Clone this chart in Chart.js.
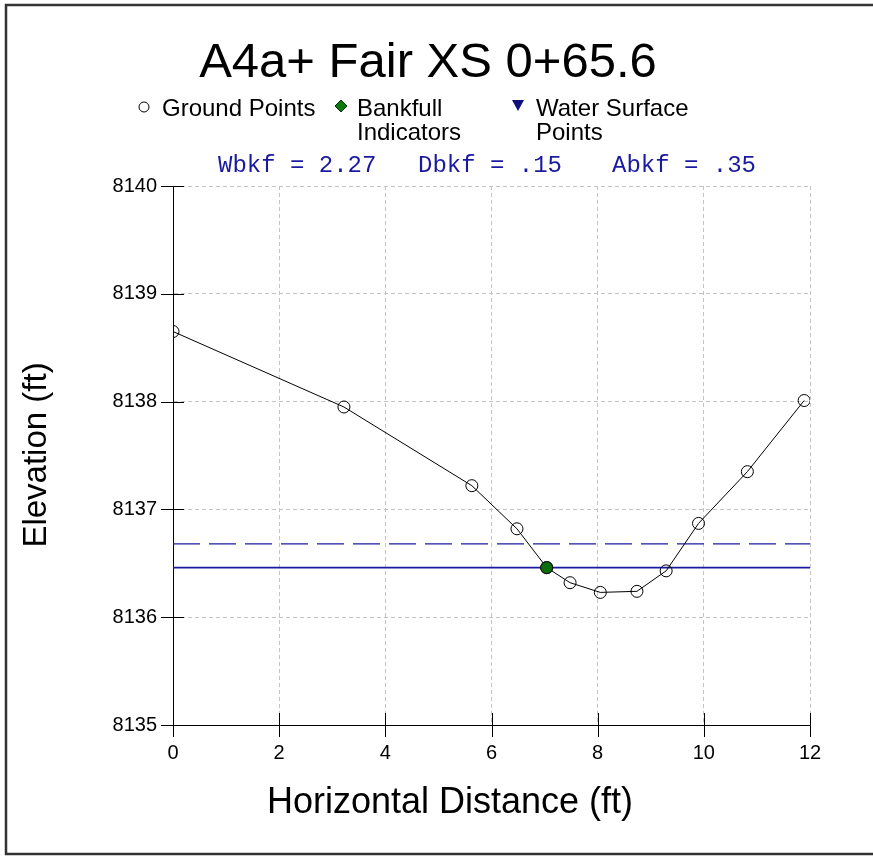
<!DOCTYPE html>
<html>
<head>
<meta charset="utf-8">
<script src="https://cdn.jsdelivr.net/npm/chart.js@4.4.1/dist/chart.umd.min.js"></script>
<style>
html,body{margin:0;padding:0;background:#fff;}
#wrap{width:873px;height:856px;position:relative;}
</style>
</head>
<body>
<div id="wrap"><canvas id="c" width="873" height="856"></canvas></div>
<script>
// ---- data ----
const chartTitle = "A4a+ Fair XS 0+65.6";
const groundX = [0, 3.22, 5.63, 6.48, 7.04, 7.48, 8.05, 8.74, 9.29, 9.90, 10.82, 11.89];
const groundY = [8138.65, 8137.95, 8137.22, 8136.82, 8136.46, 8136.32, 8136.23, 8136.24, 8136.43, 8136.87, 8137.35, 8138.01];
const bankfullX = [7.04];
const bankfullY = [8136.46];
const waterSurfaceElev = 8136.46;
const floodproneElev = 8136.68;
const lineXRange = [0, 12];
const xTicks = [0, 2, 4, 6, 8, 10, 12];
const yTicks = [8135, 8136, 8137, 8138, 8139, 8140];
const statsLabels = ["Wbkf = 2.27", "Dbkf = .15", "Abkf = .35"];
const legendLabels = [["Ground Points"], ["Bankfull", "Indicators"], ["Water Surface", "Points"]];
const xTitle = "Horizontal Distance (ft)";
const yTitle = "Elevation (ft)";

const NAVY = "#1a1aa0";
const SANS = "'Liberation Sans', Arial, sans-serif";

const groundData = groundX.map((x, i) => ({x, y: groundY[i]}));
const bankData = bankfullX.map((x, i) => ({x, y: bankfullY[i]}));
const wsData = lineXRange.map(x => ({x, y: waterSurfaceElev}));
const fpData = lineXRange.map(x => ({x, y: floodproneElev}));

const decorPlugin = {
  id: 'decor',
  beforeDraw(chart) {
    const ctx = chart.ctx;
    ctx.save();
    ctx.fillStyle = '#fff';
    ctx.fillRect(0, 0, chart.width, chart.height);
    ctx.restore();
  },
  afterDraw(chart) {
    const ctx = chart.ctx;
    const xs = chart.scales.x, ys = chart.scales.y;
    ctx.save();
    // ticks crossing axes
    ctx.strokeStyle = '#000';
    ctx.lineWidth = 1;
    ctx.setLineDash([]);
    yTicks.forEach(v => {
      const py = Math.round(ys.getPixelForValue(v)) + 0.5;
      ctx.beginPath(); ctx.moveTo(xs.left - 12, py); ctx.lineTo(xs.left + 11, py); ctx.stroke();
    });
    xTicks.forEach(v => {
      const px = Math.round(xs.getPixelForValue(v)) + 0.5;
      ctx.beginPath(); ctx.moveTo(px, ys.bottom - 12); ctx.lineTo(px, ys.bottom + 12); ctx.stroke();
    });
    // frame
    ctx.strokeStyle = '#333';
    ctx.lineWidth = 2.5;
    ctx.strokeRect(6, 5, 880, 849);
    // title
    ctx.fillStyle = '#000';
    ctx.textAlign = 'center';
    ctx.textBaseline = 'alphabetic';
    ctx.font = "49px " + SANS;
    ctx.fillText(chartTitle, 428, 77);
    // axis titles
    ctx.font = "36px " + SANS;
    ctx.textBaseline = 'middle';
    ctx.fillText(xTitle, 450, 803);
    ctx.save();
    ctx.translate(37, 455);
    ctx.rotate(-Math.PI / 2);
    ctx.font = "33px " + SANS;
    ctx.fillText(yTitle, 0, 0);
    ctx.restore();
    ctx.textBaseline = 'alphabetic';
    // legend
    ctx.font = "24px " + SANS;
    ctx.textAlign = 'left';
    // ground marker
    ctx.lineWidth = 1;
    ctx.strokeStyle = '#000';
    ctx.beginPath(); ctx.arc(144, 107, 5, 0, Math.PI * 2); ctx.stroke();
    ctx.fillText(legendLabels[0][0], 162, 116);
    // bankfull diamond
    ctx.fillStyle = '#0a7a0a';
    ctx.strokeStyle = '#003300';
    ctx.beginPath(); ctx.moveTo(341, 100); ctx.lineTo(347, 106); ctx.lineTo(341, 112); ctx.lineTo(335, 106); ctx.closePath(); ctx.fill(); ctx.stroke();
    ctx.fillStyle = '#000';
    ctx.fillText(legendLabels[1][0], 357, 116);
    ctx.fillText(legendLabels[1][1], 357, 140);
    // water triangle
    ctx.fillStyle = '#10107a';
    ctx.beginPath(); ctx.moveTo(512, 100); ctx.lineTo(524, 100); ctx.lineTo(518, 111); ctx.closePath(); ctx.fill();
    ctx.fillStyle = '#000';
    ctx.fillText(legendLabels[2][0], 536, 116);
    ctx.fillText(legendLabels[2][1], 536, 140);
    // stats line
    ctx.fillStyle = NAVY;
    ctx.font = "24px 'Liberation Mono', 'Courier New', monospace";
    const sx = [218, 418, 612];
    statsLabels.forEach((t, i) => ctx.fillText(t, sx[i], 172));
    ctx.restore();
  }
};

new Chart(document.getElementById('c'), {
  type: 'scatter',
  data: {
    datasets: [
      {
        label: 'Floodprone',
        data: fpData, showLine: true, borderColor: NAVY, borderWidth: 1.3,
        borderDash: [27, 9], pointRadius: 0, order: 3
      },
      {
        label: 'Water Surface',
        data: wsData, showLine: true, borderColor: NAVY, borderWidth: 1.8,
        pointRadius: 0, order: 3
      },
      {
        label: 'Ground Points',
        data: groundData, showLine: true, borderColor: '#000', borderWidth: 1,
        pointStyle: 'circle', pointRadius: 6, pointBackgroundColor: 'rgba(0,0,0,0)',
        pointBorderColor: '#000', pointBorderWidth: 1, order: 2
      },
      {
        label: 'Bankfull Indicators',
        data: bankData, showLine: false, pointStyle: 'circle', pointRadius: 6,
        pointBackgroundColor: '#0a6e0a', pointBorderColor: '#1a1a1a', pointBorderWidth: 1.2, order: 1
      }
    ]
  },
  options: {
    responsive: false,
    animation: false,
    devicePixelRatio: 1,
    layout: { padding: { top: 186, right: 63, bottom: 0, left: 0 } },
    plugins: { legend: { display: false }, tooltip: { enabled: false }, title: { display: false } },
    scales: {
      x: {
        type: 'linear', min: 0, max: 12,
        afterBuildTicks: s => { s.ticks = xTicks.map(v => ({value: v})); },
        afterFit: s => { s.height = 131; },
        ticks: { color: '#000', font: { family: SANS, size: 20 }, padding: 16, maxRotation: 0 },
        grid: { color: '#c4c4c4', lineWidth: 1, drawTicks: false },
        border: { display: true, color: '#000', width: 1, dash: [4, 3] },
        title: { display: false }
      },
      y: {
        type: 'linear', min: 8135, max: 8140,
        afterBuildTicks: s => { s.ticks = yTicks.map(v => ({value: v})); },
        afterFit: s => { s.width = 173; },
        ticks: { color: '#000', font: { family: SANS, size: 20 }, padding: 16, callback: v => String(v) },
        grid: { color: '#c4c4c4', lineWidth: 1, drawTicks: false },
        border: { display: true, color: '#000', width: 1, dash: [4, 3] },
        title: { display: false }
      }
    }
  },
  plugins: [decorPlugin]
});
</script>
</body>
</html>
